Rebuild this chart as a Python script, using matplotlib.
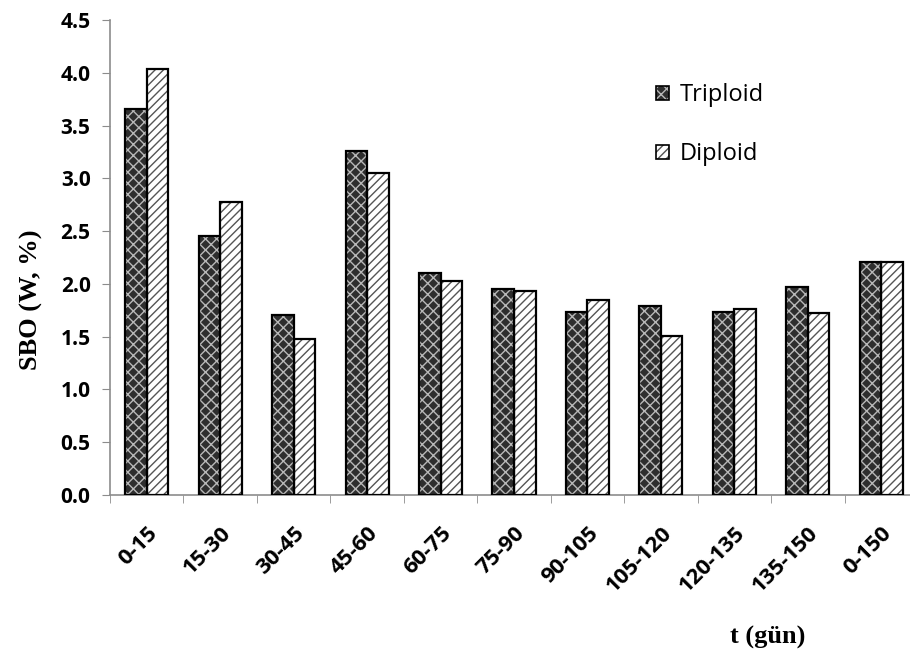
import matplotlib
matplotlib.use("Agg")
import matplotlib.pyplot as plt
import numpy as np
from matplotlib.patches import Patch
from matplotlib.legend_handler import HandlerTuple

categories = ["0-15", "15-30", "30-45", "45-60", "60-75", "75-90",
              "90-105", "105-120", "120-135", "135-150", "0-150"]
triploid = [3.66, 2.45, 1.71, 3.26, 2.10, 1.95, 1.73, 1.79, 1.73, 1.97, 2.21]
diploid = [4.04, 2.78, 1.48, 3.05, 2.03, 1.93, 1.85, 1.51, 1.76, 1.72, 2.21]
yticks = [0.0, 0.5, 1.0, 1.5, 2.0, 2.5, 3.0, 3.5, 4.0, 4.5]

W, H = 910, 655
fig = plt.figure(figsize=(W / 100, H / 100), dpi=100)
ax = fig.add_axes([110 / W, 1 - 495 / H, 808 / W, 475 / H])

x = np.arange(len(categories))
bw = 0.293

# Triploid: dark fill with light cross pattern
ax.bar(x - bw / 2, triploid, bw, facecolor="#2e2e2e", edgecolor="#b8b8b8",
       hatch="xxx", linewidth=0, zorder=2)
ax.bar(x - bw / 2, triploid, bw, facecolor="none", edgecolor="black",
       linewidth=1.6, zorder=3)
# Diploid: white fill with diagonal stripes
ax.bar(x + bw / 2, diploid, bw, facecolor="white", edgecolor="#555555",
       hatch="////", linewidth=0, zorder=2)
ax.bar(x + bw / 2, diploid, bw, facecolor="none", edgecolor="black",
       linewidth=1.6, zorder=3)

ax.set_xlim(-0.5, len(categories) - 0.5)
ax.set_ylim(0, 4.5)
ax.set_yticks(yticks)
ax.set_yticklabels([f"{v:.1f}" for v in yticks], fontfamily="Open Sans",
                   fontweight="bold", fontsize=15)

ax.set_xticks(x)
ax.set_xticklabels(categories, rotation=45, ha="right",
                   rotation_mode="anchor", fontfamily="Open Sans",
                   fontweight="bold", fontsize=16)
ax.tick_params(axis="x", which="major", length=0, pad=20)
ax.set_xticks(np.arange(-0.5, len(categories), 1.0), minor=True)
ax.tick_params(axis="x", which="minor", length=6, color="#8c8c8c",
               direction="out")
ax.tick_params(axis="y", length=6, color="#8c8c8c", direction="out", pad=8)

for s in ["top", "right"]:
    ax.spines[s].set_visible(False)
for s in ["left", "bottom"]:
    ax.spines[s].set_color("#8c8c8c")
    ax.spines[s].set_linewidth(1.2)

fig.text(31 / W, 1 - 300 / H, "SBO (W, %)", rotation=90, ha="center",
         va="center", fontfamily="Liberation Serif", fontweight="bold",
         fontsize=19)
fig.text(768 / W, 1 - 637 / H, "t (gün)", ha="center", va="center",
         fontfamily="Liberation Serif", fontweight="bold", fontsize=19)

handles = [
    (Patch(facecolor="#2e2e2e", edgecolor="#b8b8b8", hatch="xxx",
           linewidth=0),
     Patch(facecolor="none", edgecolor="black", linewidth=1.2)),
    (Patch(facecolor="white", edgecolor="#555555", hatch="////",
           linewidth=0),
     Patch(facecolor="none", edgecolor="black", linewidth=1.2)),
]
leg = ax.legend(handles, ["Triploid", "Diploid"], loc="upper left",
                bbox_to_anchor=(656 / W, 1 - 83 / H),
                bbox_transform=fig.transFigure, frameon=False,
                prop={"family": "Open Sans", "size": 17},
                handler_map={tuple: HandlerTuple(ndivide=1, pad=0)},
                handlelength=0.55, handleheight=0.55, handletextpad=0.45,
                labelspacing=1.5, borderpad=0, borderaxespad=0)

fig.savefig("out.png", dpi=100)
